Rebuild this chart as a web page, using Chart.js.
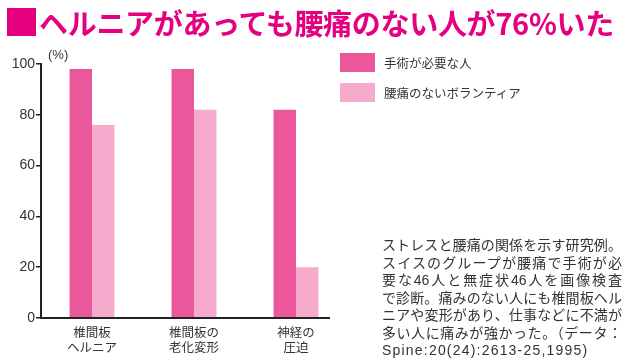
<!DOCTYPE html>
<html lang="ja"><head><meta charset="utf-8">
<script src="https://cdn.jsdelivr.net/npm/chart.js@4"></script>
<style>
html,body{margin:0;padding:0;background:#fff;}
#wrap{position:relative;width:630px;height:362px;overflow:hidden;font-family:"Liberation Sans","Noto Sans CJK JP",sans-serif;}
#c{position:absolute;left:0;top:0;}
#sq{position:absolute;left:7px;top:8px;width:29px;height:28px;background:#e4007f;}
#title{position:absolute;left:39px;top:7px;font-family:"Noto Sans CJK JP",sans-serif;font-weight:bold;font-size:29px;line-height:30px;color:#e4007f;white-space:nowrap;letter-spacing:-0.3px;}
#unit{position:absolute;left:48px;top:47px;font-size:13px;color:#333;}
.lg{position:absolute;left:340px;width:35px;height:19px;}
.lt{position:absolute;left:384px;font-size:12.5px;color:#333;line-height:19px;font-family:"Noto Sans CJK JP",sans-serif;}
#note{position:absolute;left:382px;top:237px;width:240px;font-size:14px;line-height:17.5px;color:#333;}
#note .j{text-align:justify;text-align-last:justify;text-justify:inter-character;white-space:nowrap;}
#note .l{white-space:nowrap;letter-spacing:1.2px;}
</style></head>
<body><div id="wrap">
<canvas id="c" width="630" height="362"></canvas>
<div id="sq"></div>
<div id="title"></div>
<div id="unit">(%)</div>
<div id="legend"></div>
<div id="note"></div>
</div>
<script>
const titleText = "ヘルニアがあっても腰痛のない人が76%いた";
const categories = [["椎間板","ヘルニア"],["椎間板の","老化変形"],["神経の","圧迫"]];
const seriesNames = ["手術が必要な人","腰痛のないボランティア"];
const surgeryValues = [98, 98, 82];
const volunteerValues = [76, 82, 20];
const seriesColors = ["#eb579b","#f6abcc"];
const yTicks = [0,20,40,60,80,100];
const noteLines = [
 "ストレスと腰痛の関係を示す研究例。",
 "スイスのグループが腰痛で手術が必",
 "要な46人と無症状46人を画像検査",
 "で診断。痛みのない人にも椎間板ヘル",
 "ニアや変形があり、仕事などに不満が",
 "多い人に痛みが強かった。（データ：",
 "Spine:20(24):2613-25,1995)"
];

document.getElementById('title').textContent = titleText;
document.getElementById('note').innerHTML = noteLines.map((s,i)=>'<div class="'+(i<noteLines.length-1?'j':'l')+'">'+s+'</div>').join('');
const lg = document.getElementById('legend');
seriesNames.forEach((n,i)=>{
  const top = 53 + i*30;
  lg.innerHTML += '<div class="lg" style="top:'+top+'px;background:'+seriesColors[i]+'"></div>'+
                  '<div class="lt" style="top:'+top+'px">'+n+'</div>';
});

const xLine = {
  id:'xLine',
  afterDraw(chart){
    const a = chart.chartArea, ctx = chart.ctx;
    ctx.save();
    ctx.strokeStyle = '#222'; ctx.lineWidth = 2;
    ctx.beginPath();
    ctx.moveTo(a.left-1, a.bottom);
    ctx.lineTo(a.right-17, a.bottom);
    ctx.stroke();
    ctx.restore();
  }
};

Chart.defaults.font.family = '"Liberation Sans","Noto Sans CJK JP",sans-serif';
Chart.defaults.color = '#333';
new Chart(document.getElementById('c'), {
  type:'bar',
  data:{
    labels:categories,
    datasets:[
      {label:seriesNames[0], data:surgeryValues, backgroundColor:seriesColors[0], barPercentage:1, categoryPercentage:0.44},
      {label:seriesNames[1], data:volunteerValues, backgroundColor:seriesColors[1], barPercentage:1, categoryPercentage:0.44}
    ]
  },
  plugins:[xLine],
  options:{
    responsive:false, animation:false,
    layout:{padding:{left:0, top:64, right:283, bottom:0}},
    plugins:{legend:{display:false}, tooltip:{enabled:false}},
    scales:{
      x:{
        grid:{display:false, drawTicks:false}, border:{display:false},
        ticks:{padding:7, maxRotation:0, autoSkip:false, font:{size:12.5, family:'"Noto Sans CJK JP",sans-serif', lineHeight:1.2}, color:'#333'},
        afterFit(s){ s.height = 44; }
      },
      y:{
        min:0, max:100,
        afterBuildTicks(s){ s.ticks = yTicks.map(v=>({value:v})); },
        grid:{drawOnChartArea:false, drawTicks:true, tickLength:5, color:'#222', lineWidth:1.5},
        border:{display:true, color:'#222', width:2},
        ticks:{padding:1, font:{size:14}, color:'#333'},
        afterFit(s){ s.width = 41; }
      }
    }
  }
});
</script>
</body></html>
